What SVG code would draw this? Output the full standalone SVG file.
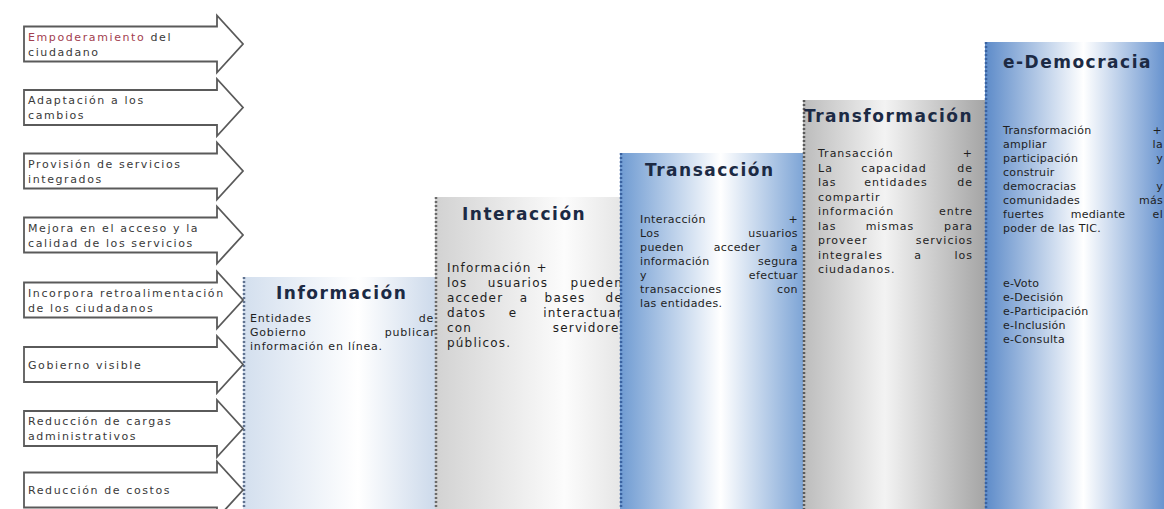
<svg xmlns="http://www.w3.org/2000/svg" width="1164" height="509" viewBox="0 0 1164 509">
<defs>
  <linearGradient id="gInfo" x1="0" y1="0" x2="1" y2="0">
    <stop offset="0" stop-color="#d3dfee"/><stop offset="0.6" stop-color="#ffffff"/><stop offset="1" stop-color="#cddaeb"/>
  </linearGradient>
  <linearGradient id="gInter" x1="0" y1="0" x2="1" y2="0">
    <stop offset="0" stop-color="#d2d2d2"/><stop offset="0.7" stop-color="#fcfcfc"/><stop offset="1" stop-color="#e6e6e6"/>
  </linearGradient>
  <linearGradient id="gTrans" x1="0" y1="0" x2="1" y2="0">
    <stop offset="0" stop-color="#6f9bd2"/><stop offset="0.55" stop-color="#ffffff"/><stop offset="1" stop-color="#7ea5d6"/>
  </linearGradient>
  <linearGradient id="gTransf" x1="0" y1="0" x2="1" y2="0">
    <stop offset="0" stop-color="#bcbcbc"/><stop offset="0.45" stop-color="#f3f3f3"/><stop offset="1" stop-color="#a5a5a5"/>
  </linearGradient>
  <linearGradient id="gDemo" x1="0" y1="0" x2="1" y2="0">
    <stop offset="0" stop-color="#5d8bc9"/><stop offset="0.55" stop-color="#ffffff"/><stop offset="1" stop-color="#6994cf"/>
  </linearGradient>
</defs>
<style>
  .arrow{fill:#ffffff;stroke:#5a5a5a;stroke-width:1.8}
  .at{font-family:"DejaVu Sans",sans-serif;font-size:11px;letter-spacing:1.6px;fill:#3a3a3a}
  .red{fill:#a2404f}
  .title{font-family:"DejaVu Sans",sans-serif;font-weight:bold;font-size:17px;letter-spacing:1.5px;fill:#1c2a44}
  .body{font-family:"DejaVu Sans",sans-serif;font-size:11px;letter-spacing:0.8px;fill:#1e1e1e}
  .b2{font-size:12px;letter-spacing:1.2px}
  .b3{letter-spacing:0.4px}
  .b4{letter-spacing:1px}
  .b5{letter-spacing:0.3px}
  .e{text-anchor:end}
  .m{text-anchor:middle}
  .dots{fill:none;stroke-width:2.5;stroke-dasharray:2 2}
</style>
<rect width="1164" height="509" fill="#ffffff"/>

<g id="step-informacion">
  <rect x="243" y="277" width="192" height="232" fill="url(#gInfo)"/>
  <line class="dots" x1="244" y1="277" x2="244" y2="509" stroke="#5f7290"/>
  <text class="title" x="276" y="299">Información</text>
  <text class="body" x="250" y="322">Entidades</text><text class="body e" x="434" y="322">de</text>
  <text class="body" x="250" y="336">Gobierno</text><text class="body e" x="438" y="336">publican</text>
  <text class="body" x="250" y="350">información en línea.</text>
</g>

<g id="step-interaccion">
  <rect x="435" y="197" width="185" height="312" fill="url(#gInter)"/>
  <line class="dots" x1="436" y1="197" x2="436" y2="509" stroke="#6a6a6a"/>
  <text class="title" x="462" y="220">Interacción</text>
  <text class="body b2" x="447" y="272">Información +</text>
  <text class="body b2" x="447" y="287">los</text><text class="body b2 m" x="518" y="287">usuarios</text><text class="body b2 e" x="623" y="287">pueden</text>
  <text class="body b2" x="447" y="302">acceder</text><text class="body b2 m" x="524" y="302">a</text><text class="body b2 m" x="565" y="302">bases</text><text class="body b2 e" x="623" y="302">de</text>
  <text class="body b2" x="447" y="317">datos</text><text class="body b2 m" x="513" y="317">e</text><text class="body b2 e" x="623" y="317">interactuar</text>
  <text class="body b2" x="447" y="332">con</text><text class="body b2 e" x="627" y="332">servidores</text>
  <text class="body b2" x="447" y="347">públicos.</text>
</g>

<g id="step-transaccion">
  <rect x="620" y="153" width="183" height="356" fill="url(#gTrans)"/>
  <line class="dots" x1="621" y1="153" x2="621" y2="509" stroke="#3a62a0"/>
  <text class="title" x="645" y="176">Transacción</text>
  <text class="body b3" x="640" y="223">Interacción</text><text class="body b3 e" x="798" y="223">+</text>
  <text class="body b3" x="640" y="237">Los</text><text class="body b3 e" x="798" y="237">usuarios</text>
  <text class="body b3" x="640" y="251">pueden</text><text class="body b3 m" x="737" y="251">acceder</text><text class="body b3 e" x="798" y="251">a</text>
  <text class="body b3" x="640" y="265">información</text><text class="body b3 e" x="798" y="265">segura</text>
  <text class="body b3" x="640" y="279">y</text><text class="body b3 e" x="798" y="279">efectuar</text>
  <text class="body b3" x="640" y="293">transacciones</text><text class="body b3 e" x="798" y="293">con</text>
  <text class="body b3" x="640" y="307">las entidades.</text>
</g>

<g id="step-transformacion">
  <rect x="803" y="100" width="182" height="409" fill="url(#gTransf)"/>
  <line class="dots" x1="804" y1="100" x2="804" y2="509" stroke="#5a5a5a"/>
  <text class="title" x="804" y="122">Transformación</text>
  <text class="body b4" x="818" y="157">Transacción</text><text class="body b4 e" x="973" y="157">+</text>
  <text class="body b4" x="818" y="171.5">La</text><text class="body b4 m" x="894" y="171.5">capacidad</text><text class="body b4 e" x="973" y="171.5">de</text>
  <text class="body b4" x="818" y="186">las</text><text class="body b4 m" x="896" y="186">entidades</text><text class="body b4 e" x="973" y="186">de</text>
  <text class="body b4" x="818" y="200.5">compartir</text>
  <text class="body b4" x="818" y="215">información</text><text class="body b4 e" x="973" y="215">entre</text>
  <text class="body b4" x="818" y="229.5">las</text><text class="body b4 m" x="890" y="229.5">mismas</text><text class="body b4 e" x="973" y="229.5">para</text>
  <text class="body b4" x="818" y="244">proveer</text><text class="body b4 e" x="973" y="244">servicios</text>
  <text class="body b4" x="818" y="258.5">integrales</text><text class="body b4 m" x="918" y="258.5">a</text><text class="body b4 e" x="973" y="258.5">los</text>
  <text class="body b4" x="818" y="273">ciudadanos.</text>
</g>

<g id="step-edemocracia">
  <rect x="985" y="42" width="179" height="467" fill="url(#gDemo)"/>
  <line class="dots" x1="986" y1="42" x2="986" y2="509" stroke="#3a62a0"/>
  <text class="title" x="1003" y="68">e-Democracia</text>
  <text class="body b5" x="1003" y="134">Transformación</text><text class="body b5 e" x="1162" y="134">+</text>
  <text class="body b5" x="1003" y="148">ampliar</text><text class="body b5 e" x="1163" y="148">la</text>
  <text class="body b5" x="1003" y="162">participación</text><text class="body b5 e" x="1163" y="162">y</text>
  <text class="body b5" x="1003" y="176">construir</text>
  <text class="body b5" x="1003" y="190">democracias</text><text class="body b5 e" x="1163" y="190">y</text>
  <text class="body b5" x="1003" y="204">comunidades</text><text class="body b5 e" x="1163" y="204">más</text>
  <text class="body b5" x="1003" y="218">fuertes</text><text class="body b5 m" x="1098" y="218">mediante</text><text class="body b5 e" x="1163" y="218">el</text>
  <text class="body b5" x="1003" y="232">poder de las TIC.</text>
  <text class="body b5" x="1003" y="287">e-Voto</text>
  <text class="body b5" x="1003" y="301">e-Decisión</text>
  <text class="body b5" x="1003" y="315">e-Participación</text>
  <text class="body b5" x="1003" y="329">e-Inclusión</text>
  <text class="body b5" x="1003" y="343">e-Consulta</text>
</g>

<g id="arrow-1">
  <path class="arrow" d="M24,26.5 H217 V15.5 L243,44 L217,72.5 V61.5 H24 Z"/>
  <text class="at" x="28" y="40.5"><tspan class="red">Empoderamiento</tspan> del</text>
  <text class="at" x="28" y="55.5">ciudadano</text>
</g>
<g id="arrow-2">
  <path class="arrow" d="M24,90 H217 V79 L243,107.5 L217,136 V125 H24 Z"/>
  <text class="at" x="28" y="104">Adaptación a los</text>
  <text class="at" x="28" y="119">cambios</text>
</g>
<g id="arrow-3">
  <path class="arrow" d="M24,153.5 H217 V142.5 L243,171 L217,199.5 V188.5 H24 Z"/>
  <text class="at" x="28" y="167.5">Provisión de servicios</text>
  <text class="at" x="28" y="182.5">integrados</text>
</g>
<g id="arrow-4">
  <path class="arrow" d="M24,217.5 H217 V206.5 L243,235 L217,263.5 V252.5 H24 Z"/>
  <text class="at" x="28" y="231.5">Mejora en el acceso y la</text>
  <text class="at" x="28" y="246.5">calidad de los servicios</text>
</g>
<g id="arrow-5">
  <path class="arrow" d="M24,282.5 H217 V271.5 L243,300 L217,328.5 V317.5 H24 Z"/>
  <text class="at" x="28" y="296.5">Incorpora retroalimentación</text>
  <text class="at" x="28" y="311.5">de los ciudadanos</text>
</g>
<g id="arrow-6">
  <path class="arrow" d="M24,347 H217 V336 L243,364.5 L217,393 V382 H24 Z"/>
  <text class="at" x="28" y="368.5">Gobierno visible</text>
</g>
<g id="arrow-7">
  <path class="arrow" d="M24,411 H217 V400 L243,428.5 L217,457 V446 H24 Z"/>
  <text class="at" x="28" y="425">Reducción de cargas</text>
  <text class="at" x="28" y="440">administrativos</text>
</g>
<g id="arrow-8">
  <path class="arrow" d="M24,472.5 H217 V461.5 L243,490 L217,518.5 V507.5 H24 Z"/>
  <text class="at" x="28" y="494">Reducción de costos</text>
</g>
</svg>
